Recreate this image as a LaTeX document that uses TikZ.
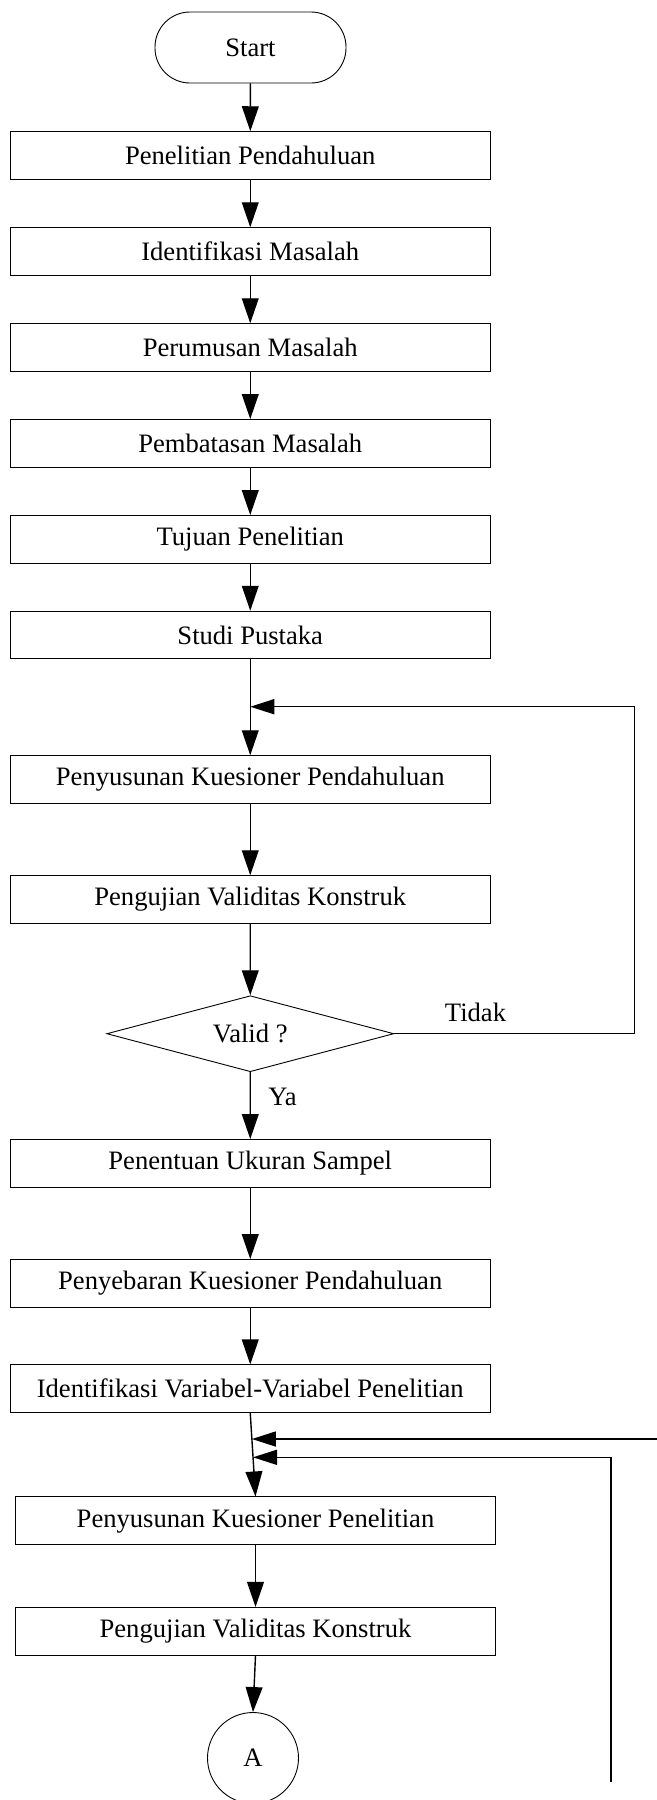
\documentclass[tikz,border=0pt]{standalone}
\usepackage{fontspec}
\setmainfont{Liberation Serif}
\usetikzlibrary{arrows.meta,shapes.geometric}
\begin{document}
\begin{tikzpicture}[x=0.5pt,y=-0.5pt,
 txt/.style={font=\fontsize{13.3}{16}\selectfont},
 box/.style={txt, draw, line width=0.45pt, minimum width=239.75pt, minimum height=23.8pt, inner sep=0pt},
 flow/.style={line width=0.7pt, -{Triangle[length=12.5pt,width=8.4pt]}},
 back/.style={line width=0.75pt, -{Triangle[length=12pt,width=7.5pt]}},
 lbl/.style={txt, inner sep=0pt}]
\useasboundingbox (0,0) rectangle (657,1800);

\node[txt, draw, line width=0.45pt, rounded corners=17.5pt, minimum width=95.5pt, minimum height=35.5pt, inner sep=0pt] (start) at (250.5,47.5) {Start};
\node[box] (b1) at (250.25,155.5) {Penelitian Pendahuluan};
\node[box] (b2) at (250.25,251.5) {Identifikasi Masalah};
\node[box] (b3) at (250.25,347.5) {Perumusan Masalah};
\node[box] (b4) at (250.25,443.3) {Pembatasan Masalah};
\node[box] (b5) at (250.25,539.3) {Tujuan Penelitian};
\node[box] (b6) at (250.25,635) {Studi Pustaka};
\node[box] (b7) at (250.25,779.5) {Penyusunan Kuesioner Pendahuluan};
\node[box] (b8) at (250.25,899.5) {Pengujian Validitas Konstruk};
\node[txt, draw, line width=0.45pt, diamond, shape aspect=3.78, minimum width=143.5pt, minimum height=38pt, inner sep=0pt] (dia) at (250.3,1033.7) {Valid ?};
\node[box] (b9) at (250.25,1163.3) {Penentuan Ukuran Sampel};
\node[box] (b10) at (250.25,1283.3) {Penyebaran Kuesioner Pendahuluan};
\node[box] (b11) at (250.25,1388.7) {Identifikasi Variabel-Variabel Penelitian};
\node[box] (b12) at (255.5,1520.7) {Penyusunan Kuesioner Penelitian};
\node[box] (b13) at (255.5,1631.2) {Pengujian Validitas Konstruk};
\node[txt, draw, line width=0.45pt, circle, minimum size=45.5pt, inner sep=0pt] (A) at (253,1758) {A};

\node[lbl, anchor=base] (tidak) at (475.5,1021.7) {Tidak};
\node[lbl, anchor=base west] (ya) at (268,1105) {Ya};

\coordinate (j1) at (250.25,706.7);
\coordinate (c1) at (634.7,1033.7);
\coordinate (c2) at (634.7,706.7);
\coordinate (j2) at (251.9,1439);
\coordinate (r2) at (657,1439);
\coordinate (j3) at (253.0,1457.3);
\coordinate (c3) at (611,1457.3);
\coordinate (e3) at (611,1782);

\draw[flow] (start) -- (b1);
\draw[flow] (b1) -- (b2);
\draw[flow] (b2) -- (b3);
\draw[flow] (b3) -- (b4);
\draw[flow] (b4) -- (b5);
\draw[flow] (b5) -- (b6);
\draw[flow] (b6) -- (b7);
\draw[flow] (b7) -- (b8);
\draw[flow] (b8) -- (dia);
\draw[flow] (dia) -- (b9);
\draw[flow] (b9) -- (b10);
\draw[flow] (b10) -- (b11);
\draw[flow] (b11.south) -- (b12.north);
\draw[flow] (b12) -- (b13);
\draw[flow] (b13.south) -- (A.north);

\draw[back] (dia.east) -- (c1) -- (c2) -- (j1);
\draw[back] (r2) -- (j2);
\draw[back] (e3) -- (c3) -- (j3);
\end{tikzpicture}
\end{document}
